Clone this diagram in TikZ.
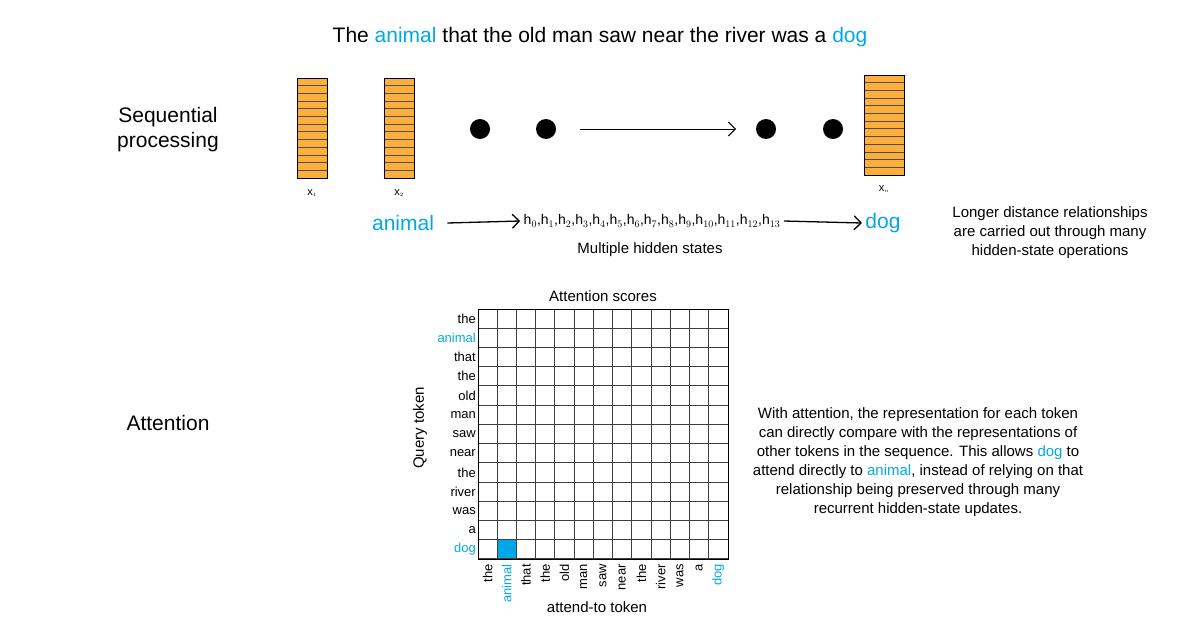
\documentclass[tikz,border=0pt]{standalone}
\usepackage{fontspec}
\setmainfont{Liberation Sans}
\definecolor{tb}{RGB}{0,169,230}
\definecolor{org}{RGB}{251,174,60}
\begin{document}
\begin{tikzpicture}[x=1pt,y=-1pt,
  big/.style={font=\fontsize{21}{25}\selectfont},
  mid/.style={font=\fontsize{15}{19}\selectfont},
  sm/.style={font=\fontsize{13}{15}\selectfont},
  dotn/.style={circle,fill=black,minimum size=20pt,inner sep=0},
  arr/.style={->,line width=1.3pt,>={Straight Barb[length=7pt,width=14pt]}}]
\useasboundingbox (0,0) rectangle (1201,629);
\usetikzlibrary{arrows.meta}
\node[big] (title) at (600,37) {The \textcolor{tb}{animal} that the old man saw near the river was a \textcolor{tb}{dog}};
\node[big,align=center] (seq) at (168,130) {Sequential\\processing};
\node[big] (att) at (168,423) {Attention};
% stacks
\foreach \nm/\x/\y/\w in {s1/297/78/30,s2/384/78/30,sn/864/75/40}{
  \fill[org] (\x,\y) rectangle ++(\w,100);
  \foreach \i in {1,...,12}{\draw[line width=0.8pt,black!70] (\x,\y+\i*100/13) -- ++(\w,0);}
  \draw[line width=0.8pt] (\x,\y) rectangle ++(\w,100);
  \coordinate (\nm) at (\x+\w/2,\y+100);
}
\node[font=\fontsize{11}{13}\selectfont,below=8pt] (lx1) at (s1) {x$_{\scriptscriptstyle 1}$};
\node[font=\fontsize{11}{13}\selectfont,below=8pt] (lx2) at (s2) {x$_{\scriptscriptstyle 2}$};
\node[font=\fontsize{11}{13}\selectfont,below=7pt] (lxn) at (sn) {x$_{\scriptscriptstyle n}$};
\node[dotn] (d1) at (480,129) {};
\node[dotn] (d2) at (546,129) {};
\node[dotn] (d3) at (766,129) {};
\node[dotn] (d4) at (833,129) {};
\coordinate (a1) at (580,129); \coordinate (a2) at (736,129);
\draw[arr,line width=1pt] (a1) -- (a2);
\node[big,text=tb] (an) at (403,223) {animal};
\node[font=\fontsize{14}{16}\selectfont] (hs) at (652,221) {h$_0$,h$_1$,h$_2$,h$_3$,h$_4$,h$_5$,h$_6$,h$_7$,h$_8$,h$_9$,h$_{10}$,h$_{11}$,h$_{12}$,h$_{13}$};
\node[big,text=tb] (dg) at (883,223) {dog};
\draw[arr] (an.east)++(10,0) -- (hs.west);
\draw[arr] (hs.east) -- (dg.west);
\node[mid] (mh) at (650,250) {Multiple hidden states};
\node[mid,align=center] (lng) at (1050,233) {Longer distance relationships\\are carried out through many\\hidden-state operations};
% grid
\def\cw{19.23}
\fill[tb] (478+\cw,309+12*\cw) rectangle ++(\cw,\cw);
\foreach \i in {0,...,13}{
  \draw[line width=1pt,black!75] (478+\i*\cw,309) -- (478+\i*\cw,559);
  \draw[line width=1pt,black!75] (478,309+\i*\cw) -- (728,309+\i*\cw);
}
\draw[line width=1pt] (478,309) rectangle (728,559);
\node[mid] (as) at (603,296) {Attention scores};
\foreach \w [count=\i] in {the,\textcolor{tb}{animal},that,the,old,man,saw,near,the,river,was,a,\textcolor{tb}{dog}}{
  \node[sm,anchor=east,inner sep=1pt] (r\i) at (477,309+\i*\cw-\cw/2) {\w};
  \node[sm,anchor=east,rotate=90,inner sep=1pt] (c\i) at (478+\i*\cw-\cw/2,563) {\w};
}
\node[mid] (at) at (597,607) {attend-to token};
\node[mid,rotate=90] (qt) at (420,428) {Query token};
\node[mid,align=center] (para) at (918,462) {With attention, the representation for each token\\can directly compare with the representations of\\other tokens in the sequence. This allows \textcolor{tb}{dog} to\\attend directly to \textcolor{tb}{animal}, instead of relying on that\\relationship being preserved through many\\recurrent hidden-state updates.};
\end{tikzpicture}
\end{document}
